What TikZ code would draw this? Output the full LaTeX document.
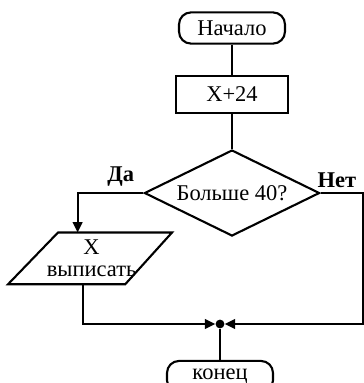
\documentclass[tikz,border=0pt]{standalone}
\usepackage{fontspec}
\setmainfont{Liberation Serif}
\usetikzlibrary{arrows.meta, positioning, shapes.geometric}
\begin{document}
\begin{tikzpicture}[
    node distance=0.75cm,
    every node/.style={font=\fontsize{16}{17}\selectfont},
    term/.style={draw, line width=1.5pt, rounded corners=0.3cm, minimum height=0.78cm, minimum width=2.65cm, inner sep=2pt},
    proc/.style={draw, line width=1.5pt, minimum height=0.93cm, minimum width=2.78cm},
    cond/.style={draw, line width=1.5pt, diamond, aspect=2.03, minimum width=4.38cm, minimum height=2.15cm, inner sep=1pt},
    io/.style={minimum height=1.28cm, align=center, inner sep=0pt, font=\fontsize{16}{16}\selectfont},
    dot/.style={circle, fill, inner sep=0pt, minimum size=0.22cm},
    line/.style={line width=1.5pt},
    arr/.style={line, -{Triangle[length=2.6mm, width=2.4mm]}}
]
\useasboundingbox (0,0) rectangle (9.1,-9.575);
\node[term] (start) at (5.8,-0.7) {Начало};
\node[proc, below=of start] (calc) {X+24};
\node[cond, below=0.875cm of calc] (dec) {Больше 40?};
\node[io] (out) at (2.29,-6.46) {X\\выписать};
\node[dot] (join) at (5.5,-8.1) {};
\node[term, below=0.78cm of join] (end) {конец};
\coordinate[right=1.06cm of dec.east] (nr);
\node (yes) at (3.02,-4.42) {\textbf{Да}};
\node (no) at (8.42,-4.5) {\textbf{Нет}};

% parallelogram round the output node
\draw[line, line join=miter] ([xshift=-0.84cm]out.north) -- ([xshift=2.01cm]out.north)
  -- ([xshift=0.84cm]out.south) -- ([xshift=-2.09cm]out.south) -- cycle;

\draw[line] (start) -- (calc);
\draw[line] (calc) -- (dec);
\draw[arr] (dec.west) -| ([xshift=-0.35cm]out.north);
\draw[arr] ([xshift=-0.22cm]out.south) |- (join);
\draw[arr] (dec.east) -- (nr) |- (join);
\draw[line] (join) -- (end);
\end{tikzpicture}
\end{document}
